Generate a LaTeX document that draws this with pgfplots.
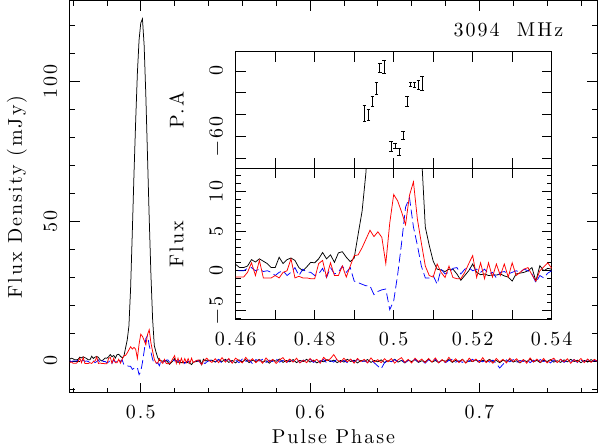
\documentclass[border=0pt]{standalone}
\usepackage{fontspec}
\setmainfont{lmroman10-regular.otf}[LetterSpace=10]
\usepackage{pgfplots}
\pgfplotsset{compat=1.18}
\usepackage{pgfplotstable}

\pgfplotstableread{
ph I L V
0.458 0.6 -0.6 0.2
0.459 1.0 -0.3 -0.3
0.460 0.8 -0.8 0.0
0.461 0.4 -0.8 0.0
0.462 0.4 -0.8 0.0
0.463 0.6 -0.2 0.3
0.464 1.4 1.0 0.4
0.465 1.1 -0.6 0.0
0.466 1.5 1.3 0.2
0.467 1.2 -0.9 -0.1
0.468 0.9 -0.9 0.0
0.469 0.4 -0.9 -0.2
0.470 0.4 -0.6 -0.6
0.471 1.7 -0.9 -0.2
0.472 0.9 -0.2 0.0
0.473 1.4 0.0 -0.6
0.474 1.6 1.5 -0.2
0.475 1.3 -0.9 0.4
0.476 0.4 -0.7 -0.6
0.477 0.0 -0.9 0.2
0.478 0.5 -0.9 -0.2
0.479 1.06 -1.0 -0.2
0.480 1.0 -1.0 -0.6
0.481 1.5 0.9 -0.4
0.482 2.3 1.3 0.3
0.483 1.5 -0.8 -0.85
0.484 2.0 1.0 0.4
0.485 1.06 -0.6 -0.4
0.486 2.25 -0.6 -0.2
0.487 2.4 0.6 0.6
0.488 1.7 -0.8 -0.2
0.489 1.15 0.6 0.4
0.490 1.6 1.9 -1.3
0.491 4.6 2.0 -1.5
0.492 7.5 2.9 -1.7
0.493 12.5 4.0 -1.9
0.494 26 5.1 -1.9
0.495 46 4.3 -3.0
0.496 67 4.9 -2.6
0.497 86 4.2 -2.4
0.498 103 0.9 -2.3
0.499 115 6.0 -4.9
0.500 121 9.6 -3.8
0.501 122.5 8.8 -0.5
0.502 113 7.4 3.5
0.503 95 5.8 8.0
0.504 73 9.5 9.2
0.505 51 11.2 5.5
0.506 31 6.5 3.2
0.507 15 3.5 0.6
0.508 5.5 0.6 -0.9
0.509 3.2 -0.6 -0.9
0.510 1.2 -0.8 -0.6
0.511 0.2 0.85 -1.7
0.512 0.1 -0.2 0.2
0.513 -0.1 -0.85 -0.4
0.514 0.2 0.6 -0.2
0.515 0.2 -0.85 0.3
0.516 -0.4 -1.0 0.4
0.517 -1.2 -1.0 -0.4
0.518 -0.6 -0.2 0.2
0.519 0.0 0.9 0.4
0.520 0.85 1.9 0.0
0.521 -0.2 -0.85 0.2
0.522 -0.5 1.0 -0.2
0.523 -0.4 -1.0 0.2
0.524 -0.6 1.0 -0.4
0.525 -0.55 -0.8 -0.2
0.526 -0.55 0.85 -0.9
0.527 -0.4 -0.6 -0.2
0.528 -0.65 0.85 -0.1
0.529 -0.8 -0.8 -0.4
0.530 -1.3 1.0 -0.2
0.531 -0.4 -0.6 0.0
0.532 -0.3 -0.2 -0.2
0.533 -0.2 0.2 0.2
0.534 0.0 0.4 0.0
0.535 0.4 -0.5 -0.4
0.536 -1.3 -1.3 -1.5
0.537 0.64 0.0 -0.6
0.538 0.0 0.5 -0.9
0.539 0.3 1.0 -0.3
0.540 0.2 0.3 0.0
0.542 0.3 -0.5 0.4
0.544 -0.4 0.8 -0.3
0.546 0.5 -0.6 0.6
0.548 -0.2 1.2 -0.8
0.550 0.6 -0.4 0.2
0.552 -0.5 0.9 0.5
0.554 0.2 -0.8 -0.4
0.556 -0.7 1.0 0.3
0.558 0.4 0.2 -0.6
0.560 -0.3 -0.7 0.7
0.562 0.5 1.3 -0.2
0.564 -0.6 -0.2 0.4
0.566 0.3 0.8 -1.0
0.568 -0.2 -0.6 0.5
0.570 0.6 0.5 0.0
0.572 -0.4 -0.8 0.6
0.574 0.1 1.1 -0.5
0.576 -0.8 -0.3 0.3
0.578 0.4 0.6 -0.2
0.580 -0.1 -0.9 0.8
0.582 0.7 0.4 -0.4
0.584 -0.5 1.2 0.2
0.586 0.2 -0.5 -0.7
0.588 -0.3 0.7 0.4
0.590 0.5 -0.4 -0.1
0.592 -0.6 1.0 0.5
0.594 0.2 -0.7 -0.6
0.596 -0.2 0.3 0.3
0.598 0.6 -0.6 -0.3
0.600 -0.4 0.9 0.6
0.602 0.3 -0.2 -0.5
0.604 -0.7 0.6 0.2
0.606 0.1 -0.8 -0.2
0.608 -0.3 1.3 0.5
0.610 0.5 0.1 -0.8
0.612 -0.2 0.8 0.1
0.614 0.3 2.3 -0.4
0.616 -0.6 0.4 0.7
0.618 0.2 -0.5 -0.3
0.620 -0.4 1.0 0.2
0.622 0.6 -0.3 -0.6
0.624 -0.2 0.7 0.4
0.626 0.3 -0.8 -0.2
0.628 -0.7 0.9 0.5
0.630 0.2 -0.2 -0.4
0.632 -0.1 0.6 0.1
0.634 0.5 -0.7 -0.5
0.636 -0.5 1.1 0.6
0.638 0.2 -0.4 -0.7
0.640 -0.3 0.5 -1.8
0.642 0.4 -0.6 -2.8
0.644 -0.6 0.8 -0.6
0.646 0.1 -0.3 0.4
0.648 -0.2 0.9 -0.3
0.650 0.6 -0.8 0.5
0.652 -0.4 0.4 -0.2
0.654 0.2 1.2 0.3
0.656 -0.7 -0.5 -0.6
0.658 0.3 0.6 0.2
0.660 -0.2 -0.7 -0.4
0.662 0.5 1.0 0.6
0.664 -0.5 -0.2 -0.3
0.666 0.1 0.7 0.2
0.668 -0.3 -0.6 -0.8
0.670 0.7 0.9 0.4
0.672 -0.4 -0.4 -0.1
0.674 0.2 1.1 0.5
0.676 -0.6 -0.7 -0.5
0.678 0.3 0.5 0.3
0.680 -0.1 -0.5 -0.6
0.682 0.5 1.3 0.2
0.684 -0.5 -0.3 0.6
0.686 0.2 0.8 -0.4
0.688 -0.3 -0.6 0.1
0.690 0.6 0.6 -0.5
0.692 -0.6 -0.8 0.4
0.694 0.1 1.0 -0.2
0.696 -0.2 -0.2 0.6
0.698 0.4 0.7 -0.6
0.700 -0.5 -0.5 0.2
0.702 0.3 1.2 -0.3
0.704 -0.2 -0.6 0.5
0.706 0.6 0.4 -0.4
0.708 -0.4 -0.8 0.3
0.710 0.2 0.9 -0.9
0.712 -0.6 -0.3 -2.5
0.714 0.3 0.6 -1.2
0.716 -0.1 -0.7 0.4
0.718 0.5 1.0 -0.3
0.720 -0.4 -0.2 0.5
0.722 0.1 0.8 -0.5
0.724 -0.7 -0.6 0.2
0.726 0.4 0.5 -0.2
0.728 -0.2 -0.8 0.6
0.730 0.6 1.1 -0.6
0.732 -0.3 -0.4 0.3
0.734 0.2 0.7 -0.4
0.736 -0.6 -0.5 0.5
0.738 0.3 0.9 -0.2
0.740 -0.2 -0.7 0.3
0.742 0.5 0.3 -0.7
0.744 -0.4 1.0 0.4
0.746 0.1 -0.6 -0.3
0.748 -0.5 0.6 0.6
0.750 0.4 -0.3 -0.5
0.752 -0.3 0.8 0.2
0.754 0.6 -0.8 -0.2
0.756 -0.2 0.5 0.5
0.758 0.3 -0.4 -0.6
0.760 -0.6 0.9 0.3
0.762 0.2 -0.6 -0.3
0.764 -0.4 0.7 0.5
0.766 0.5 -0.5 -0.4
0.768 -0.2 0.6 0.2
0.770 0.3 -0.3 -0.1
}\prof

\pgfplotstableread{
ph pa err
0.49256 -38.7 7.6
0.49360 -40.3 5.3
0.49459 -28.0 4.6
0.49560 -16.1 5.6
0.49646 2.7 4.3
0.49754 3.6 5.8
0.49932 -69.1 4.6
0.50033 -68.2 2.3
0.50134 -74.3 3.2
0.50243 -58.8 3.5
0.50337 -28.0 4.6
0.50430 -12.2 2.0
0.50522 -12.5 2.3
0.50623 -12.8 4.0
0.50724 -11.3 6.1
}\patab

\pgfplotsset{
  mystyle/.style={
    scale only axis,
    major tick length=10pt, minor tick length=5pt,
    tick style={black, line width=0.8pt},
    axis line style={line width=1pt},
    xticklabel style={anchor=base, yshift=-25.5pt},
    yticklabel style={xshift=-13pt, rotate=90, anchor=base},
  },
  Iline/.style={black, line width=0.75pt},
  Lline/.style={red, line width=0.75pt},
  Vline/.style={blue, line width=0.75pt, dash pattern=on 9pt off 4pt},
}

\begin{document}
\fontsize{20}{24}\selectfont
\begin{tikzpicture}
\useasboundingbox (-70pt,-54pt) rectangle (528pt,393pt);
\begin{axis}[mystyle,
  at={(0pt,0pt)}, anchor=south west,
  width=527pt, height=392pt,
  xmin=0.4582, xmax=0.7695, ymin=-11.46, ymax=128.9,
  xtick={0.5,0.6,0.7}, xticklabels={0.5,0.6,0.7},
  minor xtick={0.46,0.48,0.52,0.54,0.56,0.58,0.62,0.64,0.66,0.68,0.72,0.74,0.76},
  ytick={0,50,100}, yticklabels={0,50,100},
  minor ytick={-10,10,20,30,40,60,70,80,90,110,120},
  xlabel={Pulse Phase}, ylabel={Flux Density (mJy)},
  xlabel style={at={(axis description cs:0.5,-0.112)}, anchor=center},
  ylabel style={at={(axis description cs:-0.1006,0.5)}, anchor=center},
]
\addplot[Iline] table[x=ph,y=I]{\prof};
\addplot[Vline] table[x=ph,y=V]{\prof};
\addplot[Lline] table[x=ph,y=L]{\prof};
\node[anchor=base east] at (axis description cs:0.9488,0.9082) {3094\ \ MHz};
\end{axis}

\begin{axis}[mystyle,
  at={(165.7pt,224.7pt)}, anchor=south west,
  width=316pt, height=116.6pt,
  axis background/.style={fill=white},
  xmin=0.46, xmax=0.54, ymin=-89, ymax=17.6,
  xtick={0.46,0.47,0.48,0.49,0.5,0.51,0.52,0.53,0.54}, xticklabels={},
  ytick={-80,-60,-40,-20,0}, yticklabels={,−60,,,0},
  ylabel={P.A},
  ylabel style={at={(axis description cs:-0.1873,0.5)}, anchor=center},
]
\addplot[draw=none, mark=none,
  error bars/.cd, y dir=both, y explicit, error mark=-,
  error bar style={draw=black, line width=0.8pt},
  error mark options={rotate=90, draw=black, mark size=1.8pt, line width=0.8pt}]
  table[x=ph, y=pa, y error=err]{\patab};
\end{axis}

\begin{axis}[mystyle,
  at={(165.7pt,73pt)}, anchor=south west,
  width=316pt, height=151.7pt,
  axis background/.style={fill=white},
  xmin=0.46, xmax=0.54, ymin=-6.2, ymax=12.9,
  xtick={0.46,0.47,0.48,0.49,0.5,0.51,0.52,0.53,0.54},
  xticklabels={0.46,,0.48,,0.5,,0.52,,0.54},
  ytick={-5,0,5,10}, yticklabels={−5,0,5,10},
  minor ytick={-6,-4,-3,-2,-1,1,2,3,4,6,7,8,9,11,12},
  ylabel={Flux},
  ylabel style={at={(axis description cs:-0.1873,0.5)}, anchor=center},
]
\addplot[Iline] table[x=ph,y=I]{\prof};
\addplot[Vline] table[x=ph,y=V]{\prof};
\addplot[Lline] table[x=ph,y=L]{\prof};
\end{axis}
\end{tikzpicture}
\end{document}
